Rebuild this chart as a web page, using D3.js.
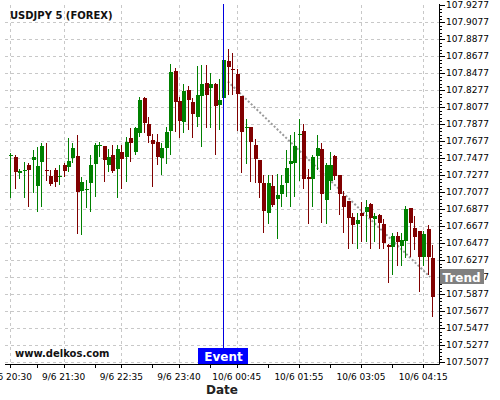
<!DOCTYPE html>
<html><head><meta charset="utf-8">
<script src="https://cdn.jsdelivr.net/npm/d3@7/dist/d3.min.js"></script>
<style>body{margin:0;background:#fff}svg{display:block}text{font-family:"DejaVu Sans",sans-serif}</style>
</head><body>
<svg id="c" width="500" height="400"></svg>
<script>
const openP=[107.7512,107.7492,107.7304,107.7332,107.7395,107.7454,107.7151,107.7434,107.7340,107.7265,107.7336,107.7262,107.7395,107.7375,107.7481,107.7504,107.7092,107.7107,107.7187,107.7407,107.7624,107.7618,107.7395,107.7512,107.7348,107.7551,107.7492,107.7709,107.7551,107.7768,107.8180,107.7877,107.7689,107.7662,107.7481,107.7598,107.7798,107.8501,107.8148,107.7904,107.8277,107.8140,107.7963,107.8210,107.8356,107.8297,107.8344,107.8101,107.8180,107.8618,107.8524,107.8465,107.8207,107.7836,107.7838,107.7630,107.7454,107.7180,107.6827,107.7148,107.6991,107.7054,107.7187,107.7403,107.7415,107.7750,107.7795,107.7248,107.7230,107.7504,107.7580,107.6983,107.7210,107.7501,107.7277,107.7030,107.6975,107.6787,107.6701,107.6827,107.6845,107.6936,107.6760,107.6807,107.6701,107.6454,107.6434,107.6560,107.6445,107.6504,107.6885,107.6650,107.6618,107.6316,107.6638,107.6297];
const highP=[107.7536,107.7512,107.7344,107.7427,107.7422,107.7571,107.7603,107.7650,107.7657,107.7336,107.7363,107.7395,107.7415,107.7709,107.7657,107.7748,107.7248,107.7218,107.7512,107.7657,107.7662,107.7624,107.7580,107.7627,107.7630,107.7630,107.7721,107.7827,107.7845,107.8198,107.8198,107.7956,107.7756,107.7756,107.7650,107.7845,107.8580,107.8533,107.8198,107.8344,107.8328,107.8187,107.8560,107.8571,107.8571,107.8474,107.8356,107.8403,107.8642,107.8756,107.8709,107.8521,107.8212,107.7932,107.7844,107.7697,107.7459,107.7277,107.7277,107.7277,107.7285,107.7277,107.7571,107.7748,107.7780,107.7932,107.7877,107.7348,107.7512,107.7748,107.7657,107.7422,107.7548,107.7512,107.7277,107.7092,107.6975,107.6827,107.6827,107.6963,107.6983,107.6942,107.6827,107.6813,107.6756,107.6460,107.6598,107.6610,107.6591,107.6912,107.6889,107.6795,107.6624,107.6618,107.6689,107.6454];
const lowP=[107.7007,107.7109,107.7227,107.7003,107.6904,107.7062,107.6838,107.6897,107.7210,107.7151,107.7140,107.7160,107.7257,107.7316,107.7415,107.6580,107.6577,107.6892,107.6845,107.7022,107.7485,107.7198,107.7316,107.7304,107.7003,107.7109,107.7198,107.7434,107.7512,107.7721,107.7768,107.7650,107.7140,107.7395,107.7277,107.7403,107.7512,107.7787,107.7709,107.7768,107.7807,107.7716,107.7845,107.7610,107.7827,107.7830,107.7512,107.7807,107.8171,107.8218,107.8218,107.7795,107.7304,107.7407,107.7198,107.7187,107.7003,107.6598,107.6701,107.6904,107.6521,107.6904,107.7022,107.6904,107.7022,107.7207,107.7109,107.6701,107.6904,107.7336,107.6709,107.6701,107.7101,107.7218,107.6807,107.6598,107.6407,107.6465,107.6407,107.6492,107.6492,107.6403,107.6492,107.6403,107.6403,107.6003,107.6101,107.6207,107.6207,107.6297,107.6309,107.6395,107.5904,107.6207,107.6101,107.5603];
const closeP=[107.7516,107.7316,107.7324,107.7336,107.7336,107.7492,107.7383,107.7622,107.7332,107.7171,107.7191,107.7265,107.7328,107.7442,107.7598,107.7081,107.7198,107.7110,107.7395,107.7630,107.7628,107.7454,107.7485,107.7328,107.7583,107.7465,107.7665,107.7650,107.7834,107.8160,107.7892,107.7740,107.7638,107.7492,107.7591,107.7780,107.8492,107.8140,107.7916,107.8265,107.8160,107.7995,107.8218,107.8348,107.8218,107.8344,107.8092,107.8160,107.8630,107.8551,107.8518,107.8227,107.7787,107.7840,107.7669,107.7465,107.7187,107.6857,107.7180,107.6924,107.7042,107.7160,107.7356,107.7442,107.7618,107.7754,107.7227,107.7230,107.7485,107.7591,107.7054,107.7395,107.7395,107.7265,107.7050,107.6904,107.6775,107.6689,107.6748,107.6795,107.6897,107.6775,107.6795,107.6709,107.6474,107.6434,107.6560,107.6492,107.6512,107.6877,107.6709,107.6551,107.6316,107.6583,107.6316,107.5845];
const yTicks=[107.5077,107.5277,107.5477,107.5677,107.5877,107.6077,107.6277,107.6477,107.6677,107.6877,107.7077,107.7277,107.7477,107.7677,107.7877,107.8077,107.8277,107.8477,107.8677,107.8877,107.9077,107.9277];
const xTickLabels=["9/6 20:30","9/6 21:30","9/6 22:35","9/6 23:40","10/6 00:45","10/6 01:55","10/6 03:05","10/6 04:15"];
const eventTime="10/6 00:30";
const trendTimes=["10/6 00:35","10/6 04:25"];
const trendValues=[107.8377,107.6077];
const titleText="USDJPY 5 (FOREX)";

const fmt=d3.timeFormat("%-d/%-m %H:%M");
const start=new Date(2020,5,9,20,30);
const categories=openP.map((_,i)=>fmt(d3.timeMinute.offset(start,5*i)));
const data=categories.map((t,i)=>({t,o:openP[i],h:highP[i],l:lowP[i],c:closeP[i]}));

const L=5,R=439,T=4,B=364;
const svg=d3.select("#c");
const x=d3.scalePoint().domain(categories).range([10.3,432.1]);
const y=d3.scaleLinear().domain([107.50535,107.92889]).range([B,T]);

// grid
const g=svg.append("g");
g.selectAll(".hg").data(yTicks.filter(v=>y(v)>10)).join("line")
 .attr("x1",L).attr("x2",R).attr("y1",d=>Math.round(y(d))+0.5).attr("y2",d=>Math.round(y(d))+0.5)
 .attr("stroke","#c8c8c8").attr("stroke-dasharray","3,3");
g.selectAll(".vg").data(xTickLabels).join("line")
 .attr("x1",d=>Math.round(x(d))+0.5).attr("x2",d=>Math.round(x(d))+0.5).attr("y1",T+1).attr("y2",B)
 .attr("stroke","#c8c8c8").attr("stroke-dasharray","3,3");

// trend
svg.append("line")
 .attr("x1",x(trendTimes[0])).attr("y1",y(trendValues[0]))
 .attr("x2",x(trendTimes[1])-2).attr("y2",y(trendValues[1]))
 .attr("stroke","#9a9a9a").attr("stroke-width",2).attr("stroke-dasharray","2,2");

// candles
const cg=svg.append("g").attr("shape-rendering","crispEdges");
const col=d=>d.c>=d.o?"#008000":"#800000";
cg.selectAll(".w").data(data).join("line")
 .attr("x1",d=>Math.round(x(d.t))+0.5).attr("x2",d=>Math.round(x(d.t))+0.5)
 .attr("y1",d=>y(d.h)).attr("y2",d=>y(d.l)).attr("stroke",col);
cg.selectAll(".b").data(data).join("rect")
 .attr("x",d=>Math.round(x(d.t))-1.5).attr("width",4)
 .attr("y",d=>y(Math.max(d.o,d.c)))
 .attr("height",d=>Math.max(1,Math.abs(y(d.o)-y(d.c))))
 .attr("fill",col);

// axes
svg.append("line").attr("x1",R+0.5).attr("x2",R+0.5).attr("y1",T).attr("y2",B+0.5).attr("stroke","#000");
svg.append("line").attr("x1",L).attr("x2",R+0.5).attr("y1",B+0.5).attr("y2",B+0.5).attr("stroke","#000");
const minorY=d3.range(0,yTicks.length*5).map(k=>yTicks[0]-0.0004+k*0.004).filter(v=>y(v)<=B&&y(v)>=T);
svg.selectAll(".mt").data(minorY).join("line")
 .attr("x1",R).attr("x2",R+3).attr("y1",d=>Math.round(y(d))+0.5).attr("y2",d=>Math.round(y(d))+0.5)
 .attr("stroke","#000").attr("shape-rendering","crispEdges");
svg.selectAll(".yt").data(yTicks).join("line")
 .attr("x1",R).attr("x2",R+6).attr("y1",d=>Math.round(y(d))+0.5).attr("y2",d=>Math.round(y(d))+0.5)
 .attr("stroke","#000").attr("shape-rendering","crispEdges");
svg.selectAll(".yl").data(yTicks).join("text")
 .attr("x",R+7).attr("y",d=>y(d)+3.3).attr("font-size",9).attr("fill","#000").text(d=>d.toFixed(4));

const idx=xTickLabels.map(s=>categories.indexOf(s));
const mids=idx.slice(1).map((v,i)=>categories[Math.round((v+idx[i])/2)]);
svg.selectAll(".xt").data(xTickLabels.concat(mids)).join("line")
 .attr("x1",d=>Math.round(x(d))+0.5).attr("x2",d=>Math.round(x(d))+0.5).attr("y1",B).attr("y2",B+4)
 .attr("stroke","#000").attr("shape-rendering","crispEdges");
svg.selectAll(".xl").data(xTickLabels).join("text")
 .attr("x",d=>x(d)).attr("y",380).attr("text-anchor","middle").attr("font-size",9).attr("fill","#000").text(d=>d);
svg.append("text").attr("x",222).attr("y",394).attr("text-anchor","middle")
 .attr("font-size",12).attr("font-weight","bold").attr("fill","#222").text("Date");

// event
const ex=Math.round(x(eventTime))+0.5;
svg.append("line").attr("x1",ex).attr("x2",ex).attr("y1",T).attr("y2",B).attr("stroke","#0000e0").attr("stroke-width",1);
svg.append("rect").attr("x",ex-25.5).attr("y",348).attr("width",50).attr("height",16).attr("fill","#0000ff");
svg.append("text").attr("x",ex).attr("y",361).attr("text-anchor","middle").attr("font-size",12)
 .attr("font-weight","bold").attr("fill","#fff").text("Event");

// trend label
const ty=y(trendValues[1]);
svg.append("rect").attr("x",R+1).attr("y",ty-8).attr("width",44).attr("height",15).attr("fill","#808080");
svg.append("text").attr("x",R+3.5).attr("y",ty+4.5).attr("font-size",12).attr("font-weight","bold")
 .attr("fill","#fff").text("Trend");

// title / watermark
svg.append("text").attr("x",10).attr("y",19).attr("font-size",10).attr("font-weight","bold").attr("fill","#111").text(titleText);
svg.append("text").attr("x",15).attr("y",357).attr("font-size",10).attr("font-weight","bold").attr("fill","#111").text("www.delkos.com");
</script>
</body></html>
